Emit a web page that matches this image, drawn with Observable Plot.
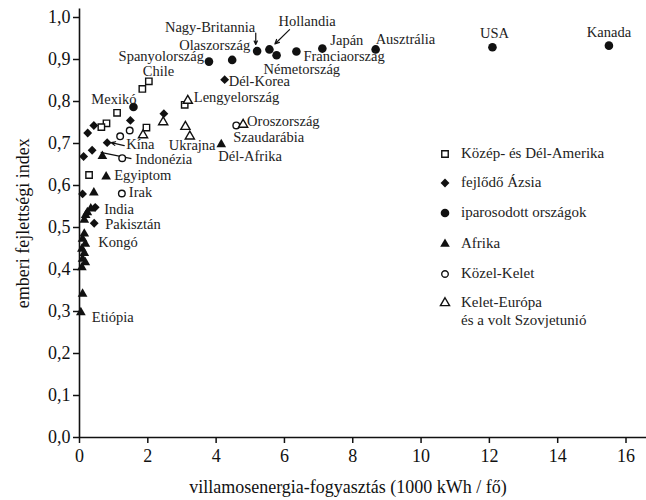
<!DOCTYPE html>
<html>
<head>
<meta charset="utf-8">
<script src="https://cdn.jsdelivr.net/npm/d3@7"></script>
<script src="https://cdn.jsdelivr.net/npm/@observablehq/plot@0.6"></script>
<style>
  body { margin: 0; background: #fff; }
  #wrap { position: relative; width: 646px; height: 500px; font-family: "Liberation Serif", "DejaVu Serif", serif; }
  .lg { position: absolute; font-size: 15px; color: #222; line-height: 18px; white-space: nowrap; }
  .lg svg { position: absolute; left: 0; top: 0; }
  .lg span { position: absolute; left: 23px; top: 0; }
</style>
</head>
<body>
<div id="wrap"></div>
<script>
// ---- data (x: 1000 kWh / fő, y: emberi fejlettségi index) ----
const kozepDelAmerika = [[2.03,0.848],[1.84,0.830],[1.10,0.773],[3.08,0.792],[0.79,0.748],[0.64,0.739],[1.96,0.738],[0.28,0.625]];
const fejlodoAzsia = [[4.25,0.852],[1.49,0.755],[2.47,0.771],[0.42,0.743],[0.24,0.725],[0.81,0.702],[0.37,0.684],[0.12,0.669],[0.09,0.580],[0.46,0.548],[0.43,0.510]];
const iparosodott = [[1.58,0.787],[3.79,0.895],[4.47,0.899],[5.20,0.920],[5.56,0.924],[5.77,0.910],[6.35,0.919],[7.11,0.926],[8.67,0.924],[12.09,0.929],[15.5,0.933]];
const afrika = [[4.15,0.698],[0.67,0.670],[0.78,0.621],[0.42,0.583],[0.33,0.545],[0.23,0.536],[0.18,0.529],[0.14,0.518],[0.14,0.485],[0.09,0.473],[0.17,0.461],[0.07,0.449],[0.14,0.439],[0.09,0.425],[0.17,0.417],[0.07,0.405],[0.09,0.342],[0.04,0.298]];
const kozelKelet = [[4.59,0.743],[1.47,0.731],[1.19,0.717],[1.25,0.665],[1.24,0.581]];
const keletEuropa = [[3.17,0.802],[4.79,0.745],[2.45,0.751],[3.10,0.740],[3.23,0.717],[1.86,0.720]];

const groupNames = ["Közép- és Dél-Amerika","fejlődő Ázsia","iparosodott országok","Afrika","Közel-Kelet","Kelet-Európa|és a volt Szovjetunió"];

// country labels: name, point x, point y
const countryNames = ["Kanada","USA","Ausztrália","Japán","Franciaország","Németország","Hollandia","Nagy-Britannia","Olaszország","Spanyolország","Chile","Mexikó","Dél-Korea","Lengyelország","Oroszország","Szaudarábia","Dél-Afrika","Ukrajna","Kína","Indonézia","Egyiptom","Irak","India","Pakisztán","Kongó","Etiópia"];
const countryX = [15.5,12.09,8.67,7.11,6.35,5.77,5.56,5.20,4.47,3.79,2.03,1.58,4.25,3.17,4.79,4.59,4.15,3.23,0.81,0.37,0.78,1.24,0.46,0.43,0.17,0.04];
const countryY = [0.933,0.929,0.924,0.926,0.919,0.910,0.924,0.920,0.899,0.895,0.848,0.787,0.852,0.802,0.745,0.743,0.698,0.717,0.702,0.684,0.621,0.581,0.548,0.510,0.461,0.298];

// pointer lines (from label to point)
const pointers = [
  {kind:"arrow", x1:6.15, y1:0.971, x2:5.72, y2:0.937},  // Hollandia
  {kind:"arrow", x1:5.16, y1:0.963, x2:5.16, y2:0.936},  // Nagy-Britannia
  {kind:"arrow", x1:1.31, y1:0.695, x2:0.93, y2:0.702},  // Kína
  {kind:"line",  x1:1.52, y1:0.664, x2:0.62, y2:0.679}   // Indonézia
];

const xTicks = [0,2,4,6,8,10,12,14,16];
const yTicks = [0,0.1,0.2,0.3,0.4,0.5,0.6,0.7,0.8,0.9,1.0];
const xTitle = "villamosenergia-fogyasztás (1000 kWh / fő)";
const yTitle = "emberi fejlettségi index";

// ---- layout (label offsets in px, anchors) ----
const labelLayout = {
  "Kanada":[0,-13,"middle"], "USA":[2,-14,"middle"], "Ausztrália":[0,-10,"start"], "Japán":[8,-8,"start"],
  "Franciaország":[7,5,"start"], "Németország":[-13,14,"start"], "Hollandia":[9,-28,"start"],
  "Nagy-Britannia":[-2,-24,"end"], "Olaszország":[18,-15,"end"], "Spanyolország":[-5,-5,"end"],
  "Chile":[-6,-10,"start"], "Mexikó":[3,-8,"end"], "Dél-Korea":[4,2,"start"], "Lengyelország":[6,-3,"start"],
  "Oroszország":[4,-3,"start"], "Szaudarábia":[-3,12,"start"], "Dél-Afrika":[-3,12,"start"],
  "Ukrajna":[-21,9,"start"], "Kína":[19,2,"start"], "Indonézia":[43,9,"start"], "Egyiptom":[8,-1,"start"],
  "Irak":[7,-1,"start"], "India":[9,2,"start"], "Pakisztán":[11,1,"start"], "Kongó":[13,-2,"start"], "Etiópia":[11,5,"start"]
};

const labels = countryNames.map((n,i) => ({name:n, x:countryX[i], y:countryY[i]}));

const fmt = d => d3.format(".1f")(d).replace(".", ",");
const P = a => a.map(([x,y]) => ({x,y}));

const chart = Plot.plot({
  width: 646, height: 500,
  marginLeft: 79, marginRight: 0, marginTop: 8.6, marginBottom: 63,
  x: {domain: [0, 16.6]},
  y: {domain: [0, 1.02]},
  style: {fontFamily: "Liberation Serif, DejaVu Serif, serif", background: "white", color: "#111"},
  marks: [
    Plot.axisY({ticks: yTicks, tickFormat: fmt, tickSize: 6, tickPadding: 3, strokeWidth: 1.5, fontSize: 18,
      label: yTitle, labelAnchor: "center", labelArrow: "none", labelOffset: 63}),
    Plot.axisX({ticks: xTicks, tickFormat: d => String(d), tickSize: 6, tickPadding: 6, strokeWidth: 1.5, fontSize: 18, label: null}),
    Plot.text([xTitle], {frameAnchor: "bottom", dx: -15, dy: 55, fontSize: 18, fill: "#111"}),
    Plot.ruleX([0], {stroke: "#111", strokeWidth: 1.6}),
    Plot.ruleY([0], {stroke: "#111", strokeWidth: 1.6}),
    Plot.arrow(pointers.filter(d => d.kind === "arrow"), {x1:"x1", y1:"y1", x2:"x2", y2:"y2", stroke:"#111", strokeWidth:1.2, headLength:6, headAngle:50}),
    Plot.link(pointers.filter(d => d.kind === "line"), {x1:"x1", y1:"y1", x2:"x2", y2:"y2", stroke:"#111", strokeWidth:1.2}),
    Plot.dot(P(iparosodott), {x:"x", y:"y", symbol:"circle", fill:"#111", r:4.3}),
    Plot.dot(P(fejlodoAzsia), {x:"x", y:"y", symbol:"diamond2", fill:"#111", stroke:"none", r:4}),
    Plot.dot(P(afrika), {x:"x", y:"y", symbol:"triangle", fill:"#111", r:3.6}),
    Plot.dot(P(kozepDelAmerika), {x:"x", y:"y", symbol:"square", fill:"white", stroke:"#111", strokeWidth:1.4, r:3.6}),
    Plot.dot(P(kozelKelet), {x:"x", y:"y", symbol:"circle", fill:"white", stroke:"#111", strokeWidth:1.4, r:3.3}),
    Plot.dot(P(keletEuropa), {x:"x", y:"y", symbol:"triangle", fill:"white", stroke:"#111", strokeWidth:1.4, r:3.4}),
    ...labels.map(d => Plot.text([d], {x:"x", y:"y", text:"name",
        textAnchor: labelLayout[d.name][2], dx: labelLayout[d.name][0], dy: labelLayout[d.name][1],
        fontSize: 14.5, fill:"#222"}))
  ]
});
const wrap = document.getElementById("wrap");
wrap.appendChild(chart);

// ---- legend ----
const legendSymbols = [
  {type: d3.symbolSquare, size: 42, fill: "white"},
  {type: d3.symbolDiamond2, size: 50, fill: "#111"},
  {type: d3.symbolCircle, size: 58, fill: "#111"},
  {type: d3.symbolTriangle, size: 40, fill: "#111"},
  {type: d3.symbolCircle, size: 34, fill: "white"},
  {type: d3.symbolTriangle, size: 36, fill: "white"}
];
const legendRowTop = [144, 173, 203, 234, 264, 293];
groupNames.forEach((name, i) => {
  const row = document.createElement("div");
  row.className = "lg";
  row.style.left = "438px";
  row.style.top = legendRowTop[i] + "px";
  const s = legendSymbols[i];
  const svg = d3.create("svg").attr("width", 14).attr("height", 18);
  svg.append("path").attr("transform", "translate(7,10)")
    .attr("d", d3.symbol(s.type, s.size)())
    .attr("fill", s.fill).attr("stroke", "#111").attr("stroke-width", s.fill === "white" ? 1.4 : 0);
  row.appendChild(svg.node());
  const span = document.createElement("span");
  span.innerHTML = name.split("|").join("<br>");
  row.appendChild(span);
  wrap.appendChild(row);
});
</script>
</body>
</html>
